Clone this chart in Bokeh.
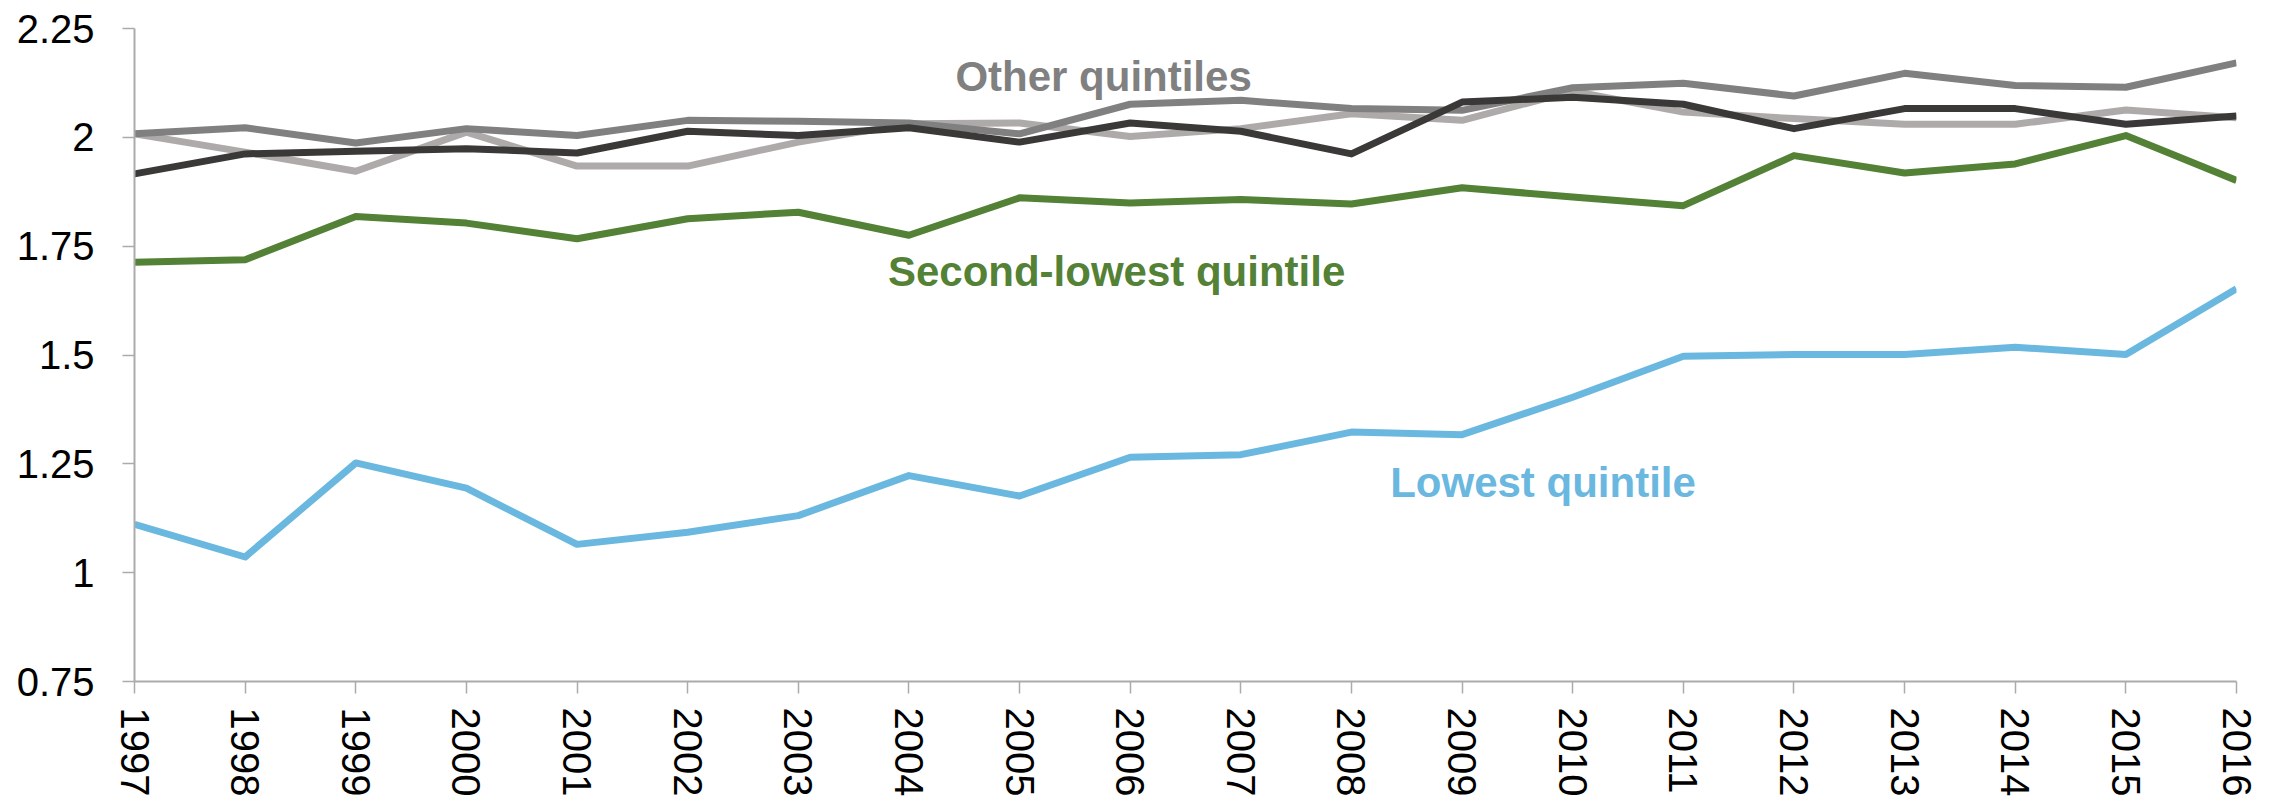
from bokeh.plotting import figure
from bokeh.models import FixedTicker, Range1d, Label
from bokeh.embed import file_html
from bokeh.resources import INLINE

# Ratio by income quintile, 1997-2016
years = list(range(1997, 2017))
lowest_quintile = [1.111, 1.036, 1.252, 1.194, 1.065, 1.093, 1.131, 1.223, 1.176, 1.265,
                   1.271, 1.323, 1.317, 1.403, 1.497, 1.501, 1.501, 1.518, 1.501, 1.652]
second_lowest_quintile = [1.713, 1.719, 1.818, 1.803, 1.767, 1.813, 1.828, 1.775, 1.861, 1.849,
                          1.857, 1.847, 1.884, 1.863, 1.843, 1.958, 1.918, 1.939, 2.004, 1.901]
middle_quintile = [2.008, 1.966, 1.922, 2.012, 1.934, 1.934, 1.989, 2.031, 2.033, 2.002,
                   2.020, 2.054, 2.039, 2.106, 2.058, 2.043, 2.030, 2.030, 2.063, 2.045]
fourth_quintile = [2.008, 2.022, 1.987, 2.020, 2.004, 2.039, 2.037, 2.033, 2.008, 2.076,
                   2.085, 2.066, 2.062, 2.114, 2.124, 2.095, 2.147, 2.119, 2.115, 2.171]
highest_quintile = [1.916, 1.962, 1.968, 1.974, 1.964, 2.014, 2.004, 2.022, 1.989, 2.033,
                    2.014, 1.962, 2.081, 2.092, 2.076, 2.020, 2.066, 2.066, 2.030, 2.049]

y_ticks = [0.75, 1.0, 1.25, 1.5, 1.75, 2.0, 2.25]
y_tick_labels = ["0.75", "1", "1.25", "1.5", "1.75", "2", "2.25"]

FONT = "Liberation Sans"
AXIS_GREY = "#ABABAB"

p = figure(width=2280, height=803, output_backend="svg", toolbar_location=None,
           x_range=Range1d(years[0], years[-1]), y_range=Range1d(0.75, 2.25),
           min_border_left=134, min_border_right=44, min_border_top=28, min_border_bottom=122)
p.outline_line_color = None
p.grid.visible = False
p.background_fill_color = "white"
p.border_fill_color = "white"

# Series: lighter greys underneath, coloured quintiles on top
series = [
    (middle_quintile, "#AEAAAA"),
    (fourth_quintile, "#808080"),
    (highest_quintile, "#3B3838"),
    (second_lowest_quintile, "#538135"),
    (lowest_quintile, "#6AB8DF"),
]
for vals, col in series:
    p.line(years, vals, line_color=col, line_width=7, line_join="round")

# Axes
p.xaxis.ticker = FixedTicker(ticks=years)
p.yaxis.ticker = FixedTicker(ticks=y_ticks)
p.yaxis.major_label_overrides = {t: s for t, s in zip(y_ticks, y_tick_labels)}
p.xaxis.major_label_orientation = "vertical"
for ax in (p.xaxis[0], p.yaxis[0]):
    ax.axis_line_color = AXIS_GREY
    ax.axis_line_width = 2
    ax.major_tick_line_color = AXIS_GREY
    ax.major_tick_line_width = 1.5
    ax.major_tick_in = 0
    ax.major_tick_out = 12
    ax.minor_tick_line_color = None
    ax.major_label_text_font = FONT
    ax.major_label_text_font_size = "40px"
    ax.major_label_text_color = "black"
p.yaxis.major_label_standoff = 28
p.xaxis.major_label_standoff = 14

# Series labels
labels = [
    ("Other quintiles", 2004.42, 2.139, "#808080"),
    ("Second-lowest quintile", 2003.81, 1.691, "#538135"),
    ("Lowest quintile", 2008.35, 1.208, "#6AB8DF"),
]
for txt, lx, ly, col in labels:
    p.add_layout(Label(x=lx, y=ly, text=txt, text_color=col, text_font=FONT,
                       text_font_size="42px", text_font_style="bold",
                       text_align="left", text_baseline="alphabetic"))

open("out.html", "w").write(file_html(p, INLINE))
